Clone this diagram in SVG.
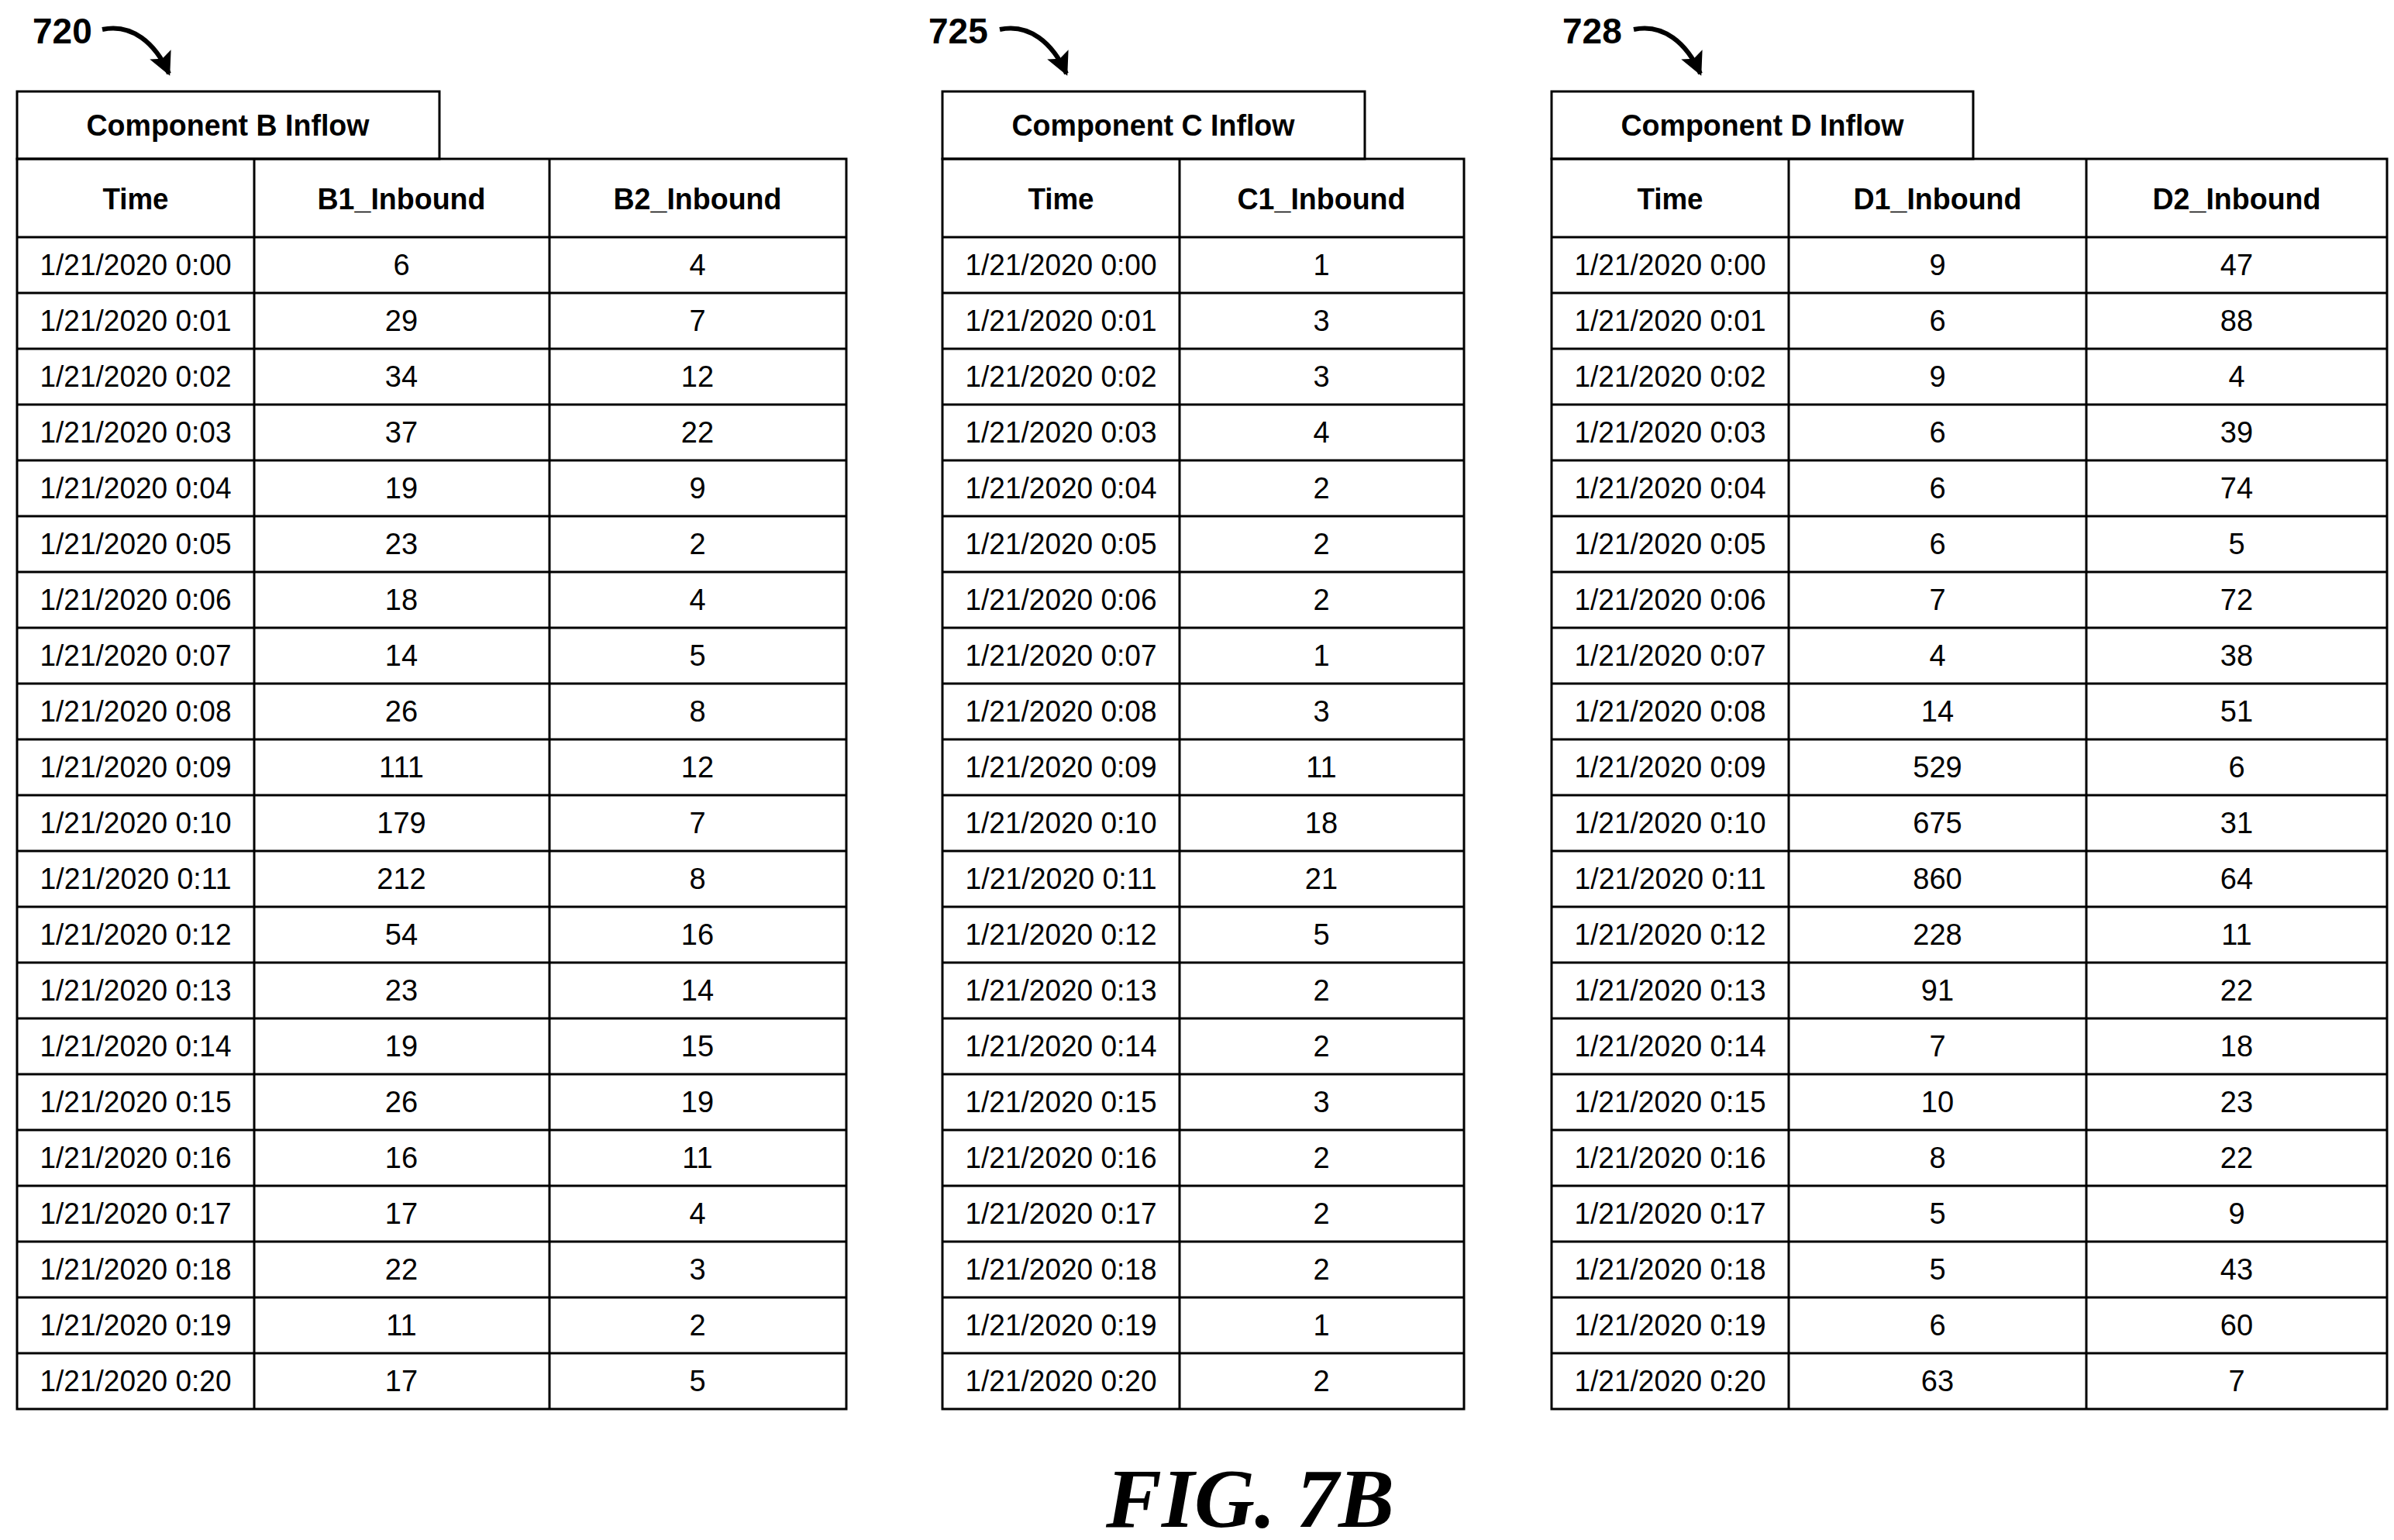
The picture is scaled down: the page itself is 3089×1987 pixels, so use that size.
<svg xmlns="http://www.w3.org/2000/svg" width="3089" height="1987" viewBox="0 0 3089 1987">
<style>
.g{fill:none;stroke:#000;stroke-width:3}
.t{font-family:"Liberation Sans",Arial,sans-serif;font-size:38px;text-anchor:middle}
.h{font-family:"Liberation Sans",Arial,sans-serif;font-size:38px;font-weight:bold;text-anchor:middle}
.r{font-family:"Liberation Sans",Arial,sans-serif;font-size:46px;font-weight:bold}
.f{font-family:"Liberation Serif","Times New Roman",serif;font-size:108px;font-weight:bold;font-style:italic;text-anchor:middle}
</style>
<defs>
<marker id="ah" markerWidth="10" markerHeight="10" refX="8" refY="5" orient="auto" markerUnits="userSpaceOnUse" viewBox="0 0 10 10"><path d="M0,0 L10,5 L0,10 Z" fill="#000"/></marker>
<marker id="a" viewBox="0 0 10 10" refX="9" refY="5" markerWidth="30" markerHeight="30" markerUnits="userSpaceOnUse" orient="auto"><path d="M0,0 L10,5 L0,10 L2,5 Z" fill="#000"/></marker>
<g id="rowlines">
<path class="g" d="M0,378h1M0,450h1"/>
</g>
</defs>
<g id="connectors" fill="none" stroke="#000" stroke-width="6">
<path d="M132,38 C170,30 200,55 218,95" marker-end="url(#a)"/>
<path d="M1290,38 C1328,30 1358,55 1376,95" marker-end="url(#a)"/>
<path d="M2108,38 C2146,30 2176,55 2194,95" marker-end="url(#a)"/>
</g>
<g id="refs">
<text class="r" x="42" y="56">720</text>
<text class="r" x="1198" y="56">725</text>
<text class="r" x="2016" y="56">728</text>
</g>
<g id="tableB">
<rect class="g" x="22" y="118" width="545" height="87"/>
<text class="h" x="294" y="175" textLength="365" lengthAdjust="spacingAndGlyphs">Component B Inflow</text>
<rect class="g" x="22" y="205" width="1070" height="1613"/>
<path class="g" d="M328,205V1818M709,205V1818M22,306H1092M22,378H1092M22,450H1092M22,522H1092M22,594H1092M22,666H1092M22,738H1092M22,810H1092M22,882H1092M22,954H1092M22,1026H1092M22,1098H1092M22,1170H1092M22,1242H1092M22,1314H1092M22,1386H1092M22,1458H1092M22,1530H1092M22,1602H1092M22,1674H1092M22,1746H1092"/>
<text class="h" x="175" y="270" textLength="85" lengthAdjust="spacingAndGlyphs">Time</text>
<text class="h" x="518" y="270" textLength="217" lengthAdjust="spacingAndGlyphs">B1_Inbound</text>
<text class="h" x="900" y="270" textLength="217" lengthAdjust="spacingAndGlyphs">B2_Inbound</text>
</g>
<g id="tableC">
<rect class="g" x="1216" y="118" width="545" height="87"/>
<text class="h" x="1488" y="175" textLength="365" lengthAdjust="spacingAndGlyphs">Component C Inflow</text>
<rect class="g" x="1216" y="205" width="673" height="1613"/>
<path class="g" d="M1522,205V1818M1216,306H1889M1216,378H1889M1216,450H1889M1216,522H1889M1216,594H1889M1216,666H1889M1216,738H1889M1216,810H1889M1216,882H1889M1216,954H1889M1216,1026H1889M1216,1098H1889M1216,1170H1889M1216,1242H1889M1216,1314H1889M1216,1386H1889M1216,1458H1889M1216,1530H1889M1216,1602H1889M1216,1674H1889M1216,1746H1889"/>
<text class="h" x="1369" y="270" textLength="85" lengthAdjust="spacingAndGlyphs">Time</text>
<text class="h" x="1705" y="270" textLength="217" lengthAdjust="spacingAndGlyphs">C1_Inbound</text>
</g>
<g id="tableD">
<rect class="g" x="2002" y="118" width="544" height="87"/>
<text class="h" x="2274" y="175" textLength="365" lengthAdjust="spacingAndGlyphs">Component D Inflow</text>
<rect class="g" x="2002" y="205" width="1078" height="1613"/>
<path class="g" d="M2308,205V1818M2692,205V1818M2002,306H3080M2002,378H3080M2002,450H3080M2002,522H3080M2002,594H3080M2002,666H3080M2002,738H3080M2002,810H3080M2002,882H3080M2002,954H3080M2002,1026H3080M2002,1098H3080M2002,1170H3080M2002,1242H3080M2002,1314H3080M2002,1386H3080M2002,1458H3080M2002,1530H3080M2002,1602H3080M2002,1674H3080M2002,1746H3080"/>
<text class="h" x="2155" y="270" textLength="85" lengthAdjust="spacingAndGlyphs">Time</text>
<text class="h" x="2500" y="270" textLength="217" lengthAdjust="spacingAndGlyphs">D1_Inbound</text>
<text class="h" x="2886" y="270" textLength="217" lengthAdjust="spacingAndGlyphs">D2_Inbound</text>
</g>
<g id="timecols" class="t">
<g id="timeB">
<text class="t" x="175" y="355" textLength="247" lengthAdjust="spacingAndGlyphs">1/21/2020 0:00</text>
<text class="t" x="175" y="427" textLength="247" lengthAdjust="spacingAndGlyphs">1/21/2020 0:01</text>
<text class="t" x="175" y="499" textLength="247" lengthAdjust="spacingAndGlyphs">1/21/2020 0:02</text>
<text class="t" x="175" y="571" textLength="247" lengthAdjust="spacingAndGlyphs">1/21/2020 0:03</text>
<text class="t" x="175" y="643" textLength="247" lengthAdjust="spacingAndGlyphs">1/21/2020 0:04</text>
<text class="t" x="175" y="715" textLength="247" lengthAdjust="spacingAndGlyphs">1/21/2020 0:05</text>
<text class="t" x="175" y="787" textLength="247" lengthAdjust="spacingAndGlyphs">1/21/2020 0:06</text>
<text class="t" x="175" y="859" textLength="247" lengthAdjust="spacingAndGlyphs">1/21/2020 0:07</text>
<text class="t" x="175" y="931" textLength="247" lengthAdjust="spacingAndGlyphs">1/21/2020 0:08</text>
<text class="t" x="175" y="1003" textLength="247" lengthAdjust="spacingAndGlyphs">1/21/2020 0:09</text>
<text class="t" x="175" y="1075" textLength="247" lengthAdjust="spacingAndGlyphs">1/21/2020 0:10</text>
<text class="t" x="175" y="1147" textLength="247" lengthAdjust="spacingAndGlyphs">1/21/2020 0:11</text>
<text class="t" x="175" y="1219" textLength="247" lengthAdjust="spacingAndGlyphs">1/21/2020 0:12</text>
<text class="t" x="175" y="1291" textLength="247" lengthAdjust="spacingAndGlyphs">1/21/2020 0:13</text>
<text class="t" x="175" y="1363" textLength="247" lengthAdjust="spacingAndGlyphs">1/21/2020 0:14</text>
<text class="t" x="175" y="1435" textLength="247" lengthAdjust="spacingAndGlyphs">1/21/2020 0:15</text>
<text class="t" x="175" y="1507" textLength="247" lengthAdjust="spacingAndGlyphs">1/21/2020 0:16</text>
<text class="t" x="175" y="1579" textLength="247" lengthAdjust="spacingAndGlyphs">1/21/2020 0:17</text>
<text class="t" x="175" y="1651" textLength="247" lengthAdjust="spacingAndGlyphs">1/21/2020 0:18</text>
<text class="t" x="175" y="1723" textLength="247" lengthAdjust="spacingAndGlyphs">1/21/2020 0:19</text>
<text class="t" x="175" y="1795" textLength="247" lengthAdjust="spacingAndGlyphs">1/21/2020 0:20</text>
</g>
<use href="#timeB" x="1194"/>
<use href="#timeB" x="1980"/>
</g>
<g id="valsB1" class="t">
<text x="518" y="355">6</text><text x="518" y="427">29</text><text x="518" y="499">34</text><text x="518" y="571">37</text><text x="518" y="643">19</text><text x="518" y="715">23</text><text x="518" y="787">18</text><text x="518" y="859">14</text><text x="518" y="931">26</text><text x="518" y="1003">111</text><text x="518" y="1075">179</text><text x="518" y="1147">212</text><text x="518" y="1219">54</text><text x="518" y="1291">23</text><text x="518" y="1363">19</text><text x="518" y="1435">26</text><text x="518" y="1507">16</text><text x="518" y="1579">17</text><text x="518" y="1651">22</text><text x="518" y="1723">11</text><text x="518" y="1795">17</text>
</g>
<g id="valsB2" class="t">
<text x="900" y="355">4</text><text x="900" y="427">7</text><text x="900" y="499">12</text><text x="900" y="571">22</text><text x="900" y="643">9</text><text x="900" y="715">2</text><text x="900" y="787">4</text><text x="900" y="859">5</text><text x="900" y="931">8</text><text x="900" y="1003">12</text><text x="900" y="1075">7</text><text x="900" y="1147">8</text><text x="900" y="1219">16</text><text x="900" y="1291">14</text><text x="900" y="1363">15</text><text x="900" y="1435">19</text><text x="900" y="1507">11</text><text x="900" y="1579">4</text><text x="900" y="1651">3</text><text x="900" y="1723">2</text><text x="900" y="1795">5</text>
</g>
<g id="valsC1" class="t">
<text x="1705" y="355">1</text><text x="1705" y="427">3</text><text x="1705" y="499">3</text><text x="1705" y="571">4</text><text x="1705" y="643">2</text><text x="1705" y="715">2</text><text x="1705" y="787">2</text><text x="1705" y="859">1</text><text x="1705" y="931">3</text><text x="1705" y="1003">11</text><text x="1705" y="1075">18</text><text x="1705" y="1147">21</text><text x="1705" y="1219">5</text><text x="1705" y="1291">2</text><text x="1705" y="1363">2</text><text x="1705" y="1435">3</text><text x="1705" y="1507">2</text><text x="1705" y="1579">2</text><text x="1705" y="1651">2</text><text x="1705" y="1723">1</text><text x="1705" y="1795">2</text>
</g>
<g id="valsD1" class="t">
<text x="2500" y="355">9</text><text x="2500" y="427">6</text><text x="2500" y="499">9</text><text x="2500" y="571">6</text><text x="2500" y="643">6</text><text x="2500" y="715">6</text><text x="2500" y="787">7</text><text x="2500" y="859">4</text><text x="2500" y="931">14</text><text x="2500" y="1003">529</text><text x="2500" y="1075">675</text><text x="2500" y="1147">860</text><text x="2500" y="1219">228</text><text x="2500" y="1291">91</text><text x="2500" y="1363">7</text><text x="2500" y="1435">10</text><text x="2500" y="1507">8</text><text x="2500" y="1579">5</text><text x="2500" y="1651">5</text><text x="2500" y="1723">6</text><text x="2500" y="1795">63</text>
</g>
<g id="valsD2" class="t">
<text x="2886" y="355">47</text><text x="2886" y="427">88</text><text x="2886" y="499">4</text><text x="2886" y="571">39</text><text x="2886" y="643">74</text><text x="2886" y="715">5</text><text x="2886" y="787">72</text><text x="2886" y="859">38</text><text x="2886" y="931">51</text><text x="2886" y="1003">6</text><text x="2886" y="1075">31</text><text x="2886" y="1147">64</text><text x="2886" y="1219">11</text><text x="2886" y="1291">22</text><text x="2886" y="1363">18</text><text x="2886" y="1435">23</text><text x="2886" y="1507">22</text><text x="2886" y="1579">9</text><text x="2886" y="1651">43</text><text x="2886" y="1723">60</text><text x="2886" y="1795">7</text>
</g>
<text class="f" x="1613" y="1970">FIG. 7B</text>
</svg>
